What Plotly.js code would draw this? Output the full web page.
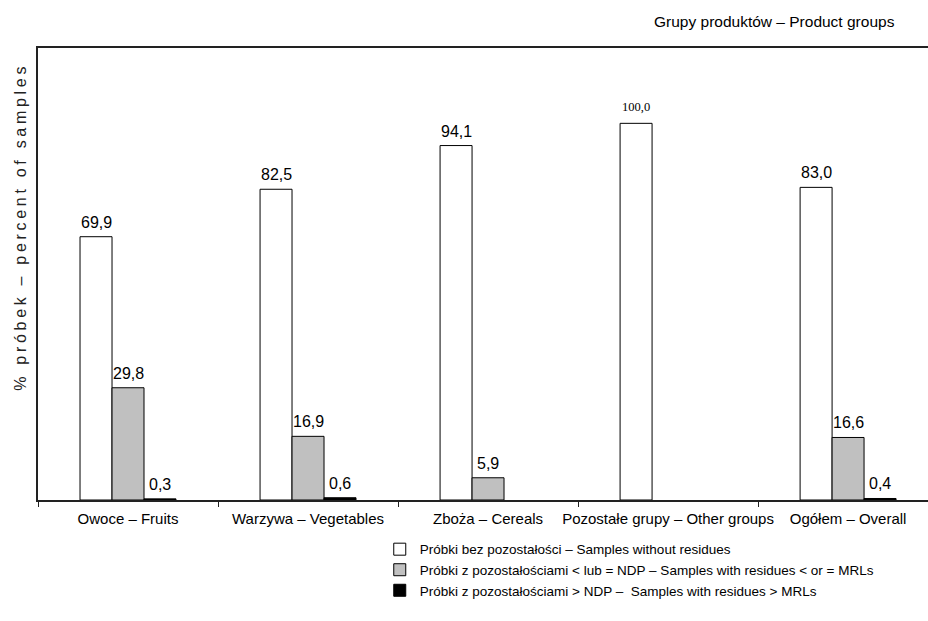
<!DOCTYPE html>
<html><head><meta charset="utf-8">
<script src="https://cdn.plot.ly/plotly-3.0.1.min.js"></script>
<style>body{margin:0;background:#fff}#c{width:928px;height:621px}</style>
</head><body><div id="c"></div>
<script>
const categories = ["Owoce – Fruits", "Warzywa – Vegetables", "Zboża – Cereals", "Pozostałe grupy – Other groups", "Ogółem – Overall"];
const withoutResidues = [69.9, 82.5, 94.1, 100.0, 83.0];
const residuesBelowMRL = [29.8, 16.9, 5.9, null, 16.6];
const residuesAboveMRL = [0.3, 0.6, null, null, 0.4];
const seriesNames = [
  "Próbki bez pozostałości – Samples without residues",
  "Próbki z pozostałościami < lub = NDP – Samples with residues < or = MRLs",
  "Próbki z pozostałościami > NDP –  Samples with residues > MRLs"
];
const FONT = "Liberation Sans, Arial, sans-serif";
const SERIF = "Liberation Serif, Times New Roman, serif";
const BARGAP = 0.467;

function bar(y, name, color) {
  return {
    type: "bar", x: categories, y: y, name: name,
    marker: {color: color, line: {color: "#000", width: 1}},
    hoverinfo: "skip"
  };
}
const series = [withoutResidues, residuesBelowMRL, residuesAboveMRL];
const colors = ["#ffffff", "#c0c0c0", "#000000"];
const data = series.map((s, k) => bar(s, seriesNames[k], colors[k]));

// value labels placed through the axes (category index + group offset, value)
const slot = (1 - BARGAP) / series.length;
const labels = [];
series.forEach((s, k) => {
  s.forEach((v, i) => {
    if (v === null) return;
    const serif = v === 100;
    labels.push({
      xref: "x", yref: "y", x: i + (k - 1) * slot, y: v,
      text: v.toFixed(1).replace(".", ","), showarrow: false,
      xanchor: "center", yanchor: "bottom", yshift: serif ? 7 : 4,
      font: {family: serif ? SERIF : FONT, size: serif ? 12.5 : 16, color: "#000"}
    });
  });
});

const layout = {
  width: 928, height: 621,
  margin: {l: 38, r: 0, t: 48, b: 121},
  paper_bgcolor: "#fff", plot_bgcolor: "#fff",
  font: {family: FONT, size: 15, color: "#000"},
  barmode: "group", bargap: BARGAP, bargroupgap: 0,
  showlegend: true,
  legend: {x: 0.384, y: -0.075, xanchor: "left", yanchor: "top",
           font: {family: FONT, size: 13.5, color: "#000"}, tracegroupgap: 0,
           itemwidth: 30, bgcolor: "rgba(0,0,0,0)"},
  xaxis: {type: "category", range: [-0.5, 4.444], showline: true, linecolor: "#222", linewidth: 2,
          mirror: true, ticks: "outside", ticklen: 5, tickcolor: "#222", tickson: "boundaries",
          ticklabelstandoff: 4,
          tickangle: 0, showgrid: false, tickfont: {size: 15, family: FONT, color: "#000"}, fixedrange: true},
  yaxis: {range: [0, 120], showline: true, linecolor: "#222", linewidth: 2, showgrid: false,
          showticklabels: false, ticks: "", zeroline: false, fixedrange: true},
  annotations: labels.concat([
    {text: "Grupy produktów – Product groups", xref: "paper", yref: "paper", x: 0.965, y: 1.0597,
     xanchor: "right", yanchor: "middle", showarrow: false, font: {size: 15.5, family: FONT, color: "#000"}},
    {text: '<span style="letter-spacing:3.7px">% próbek – percent of samples</span>', xref: "paper", yref: "paper",
     x: -0.02, y: 0.605, xanchor: "center", yanchor: "middle", textangle: -90,
     showarrow: false, font: {size: 16, family: FONT, color: "#222"}}
  ])
};
Plotly.newPlot("c", data, layout, {displayModeBar: false, staticPlot: true});
</script></body></html>
